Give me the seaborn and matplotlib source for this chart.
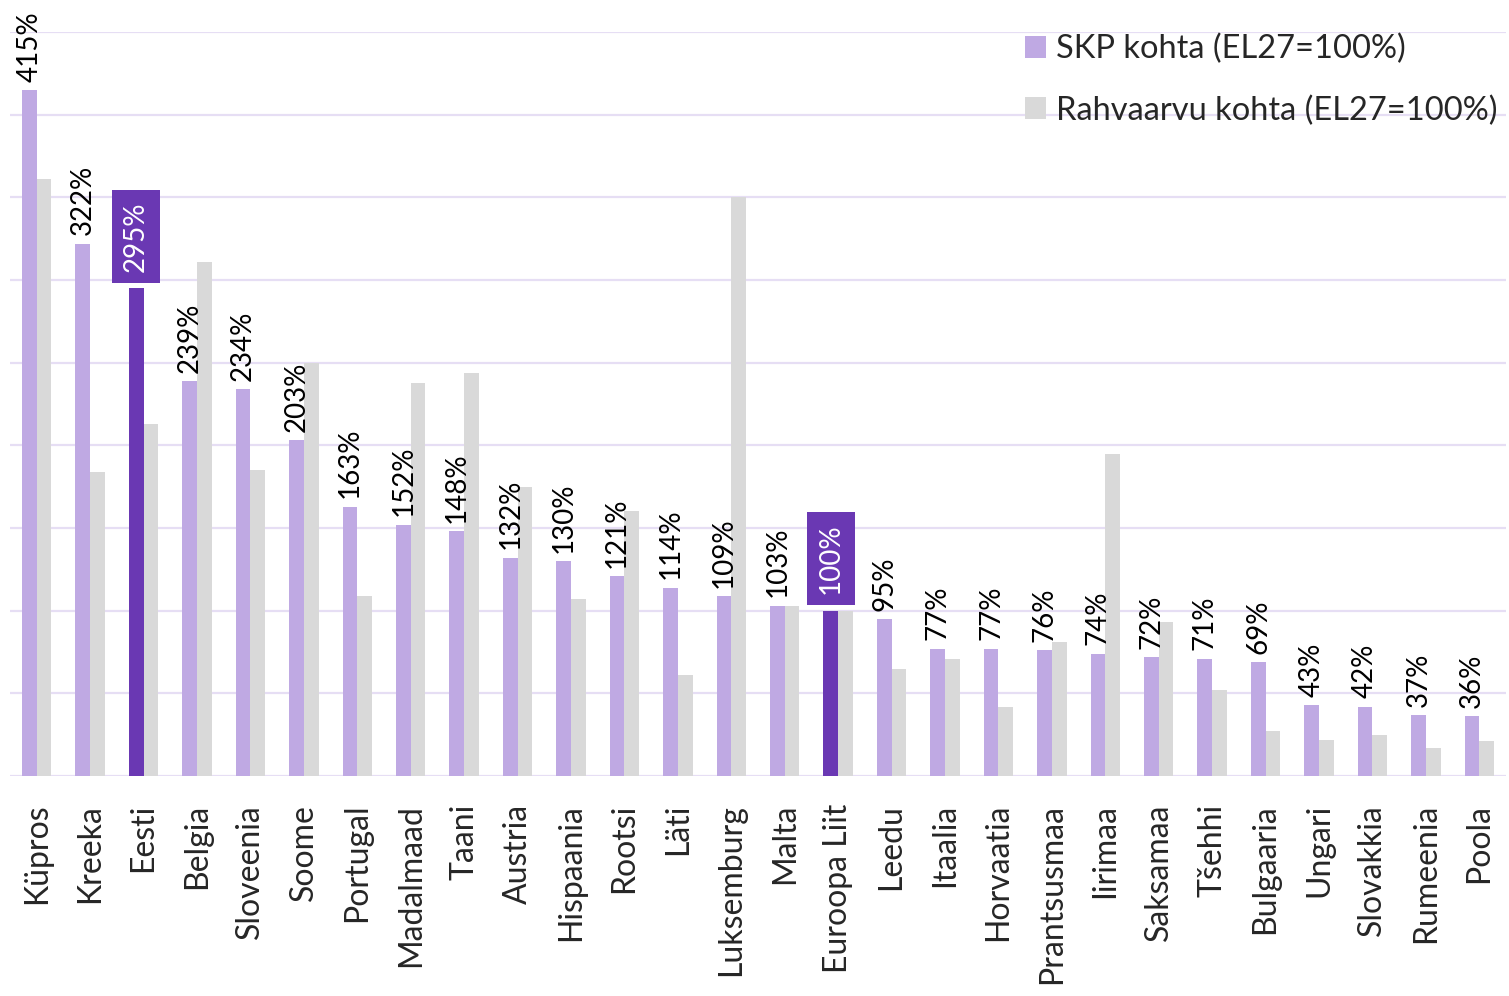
import pandas as pd
import numpy as np
import matplotlib.pyplot as plt
import seaborn as sns

# Data
riigid = ['Küpros', 'Kreeka', 'Eesti', 'Belgia', 'Sloveenia', 'Soome', 'Portugal',
          'Madalmaad', 'Taani', 'Austria', 'Hispaania', 'Rootsi', 'Läti', 'Luksemburg',
          'Malta', 'Euroopa Liit', 'Leedu', 'Itaalia', 'Horvaatia', 'Prantsusmaa',
          'Iirimaa', 'Saksamaa', 'Tšehhi', 'Bulgaaria', 'Ungari', 'Slovakkia',
          'Rumeenia', 'Poola']
skp_kohta = [415, 322, 295, 239, 234, 203, 163, 152, 148, 132, 130, 121, 114, 109,
             103, 100, 95, 77, 77, 76, 74, 72, 71, 69, 43, 42, 37, 36]
rahvaarvu_kohta = [361, 184, 213, 311, 185, 250, 109, 238, 244, 175, 107, 160, 61, 350,
                   103, 100, 65, 71, 42, 81, 195, 93, 52, 27, 22, 25, 17, 21]
esile = ['Eesti', 'Euroopa Liit']

sari_skp = 'SKP kohta (EL27=100%)'
sari_rahv = 'Rahvaarvu kohta (EL27=100%)'

hele_lilla = '#bfa9e3'
tume_lilla = '#6a38b3'
hall = '#d9d9d9'
ruudustik = '#e6def4'

df = pd.DataFrame({
    'riik': riigid * 2,
    'vaartus': skp_kohta + rahvaarvu_kohta,
    'naitaja': [sari_skp] * len(riigid) + [sari_rahv] * len(riigid),
})

sns.set_style('white')
plt.rcParams['font.family'] = ['Lato', 'DejaVu Sans']

fig = plt.figure(figsize=(15.09, 9.96), dpi=100)
ax = fig.add_axes([10 / 1509, 220 / 996, 1496 / 1509, 744 / 996])

sns.barplot(data=df, x='riik', y='vaartus', hue='naitaja',
            palette=[hele_lilla, hall], width=0.55, saturation=1,
            linewidth=0, ax=ax)

ax.set_ylim(0, 450)
ax.set_yticks(np.arange(0, 451, 50))
ax.set_yticklabels([])
ax.grid(axis='y', color=ruudustik, linewidth=1.6)
ax.set_axisbelow(True)
for s in ax.spines.values():
    s.set_visible(False)

ax.set_xlabel('')
ax.set_ylabel('')
ax.tick_params(axis='x', length=0, pad=20, labelsize=23, rotation=90)
ax.tick_params(axis='y', length=0)

# Value labels above purple bars
for riik, bar, v in zip(riigid, ax.containers[0], skp_kohta):
    x = bar.get_x() + bar.get_width() / 2
    if riik in esile:
        bar.set_facecolor(tume_lilla)
        ax.text(x, v + 10, f'{v}%', rotation=90, ha='center', va='bottom',
                fontsize=20, color='white', clip_on=False,
                bbox=dict(boxstyle='square,pad=0.4', fc=tume_lilla, ec='none'))
    else:
        ax.text(x, v + 5, f'{v}%', rotation=90, ha='center', va='bottom',
                fontsize=20, color='black', clip_on=False)

ax.legend(loc='upper right', bbox_to_anchor=(1.003, 1.015), frameon=False,
          fontsize=23.5, handlelength=0.65, handleheight=0.65, labelspacing=0.95,
          handletextpad=0.3, borderaxespad=0)

fig.savefig('out.png', dpi=100)
